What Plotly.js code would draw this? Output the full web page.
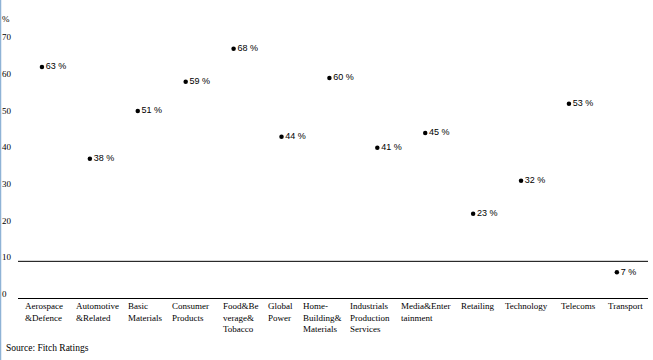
<!DOCTYPE html>
<html><head><meta charset="utf-8">
<script src="https://cdn.plot.ly/plotly-3.0.1.min.js"></script>
<style>html,body{margin:0;padding:0;background:#fff;}#chart{width:653px;height:360px;}</style>
</head><body><div id="chart"></div>
<script>
const categories = ["Aerospace &Defence","Automotive &Related","Basic Materials","Consumer Products","Food&Beverage& Tobacco","Global Power","Home-Building& Materials","Industrials Production Services","Media&Entertainment","Retailing","Technology","Telecoms","Transport"];
const categoryLabels = ["Aerospace<br>&Defence","Automotive<br>&Related","Basic<br>Materials","Consumer<br>Products","Food&Be<br>verage&<br>Tobacco","Global<br>Power","Home-<br>Building&<br>Materials","Industrials<br>Production<br>Services","Media&Enter<br>tainment","Retailing","Technology","Telecoms","Transport"];
const values = [63,38,51,59,68,44,60,41,45,23,32,53,7];
const yTicks = [0,10,20,30,40,50,60,70];
const thresholdValue = 10;
const unitLabel = "%";
const sourceText = "Source: Fitch Ratings";

// label placement offsets (style only, px)
const labelShift = [-19,-16,-12,-16,-13,-16,-28,-29,-26,-14,-18,-10,-11];

const serif = "Liberation Serif, Times New Roman, serif";
const annotations = [];
yTicks.forEach(v => annotations.push({xref:'paper', yref:'y', x:-18/630, y:v, xanchor:'left', yanchor:'bottom', text:String(v), showarrow:false, font:{family:serif, size:9, color:'#000'}, yshift:-3}));
annotations.push({xref:'paper', yref:'y', x:-18/630, y:75, xanchor:'left', yanchor:'bottom', text:unitLabel, showarrow:false, font:{family:serif, size:9, color:'#000'}, yshift:-3});
categories.forEach((c,i) => annotations.push({xref:'x', yref:'paper', x:c, y:0, xanchor:'left', yanchor:'top', xshift:labelShift[i], yshift:-1, align:'left', text:categoryLabels[i], showarrow:false, font:{family:serif, size:9, color:'#000'}}));
annotations.push({xref:'paper', yref:'paper', x:-14/630, y:-50/275, xanchor:'left', yanchor:'middle', text:sourceText, showarrow:false, font:{family:serif, size:9.5, color:'#000'}});

const trace = {
  type:'scatter', mode:'markers+text', x:categories, y:values,
  marker:{color:'#000', size:4.5},
  text: values.map(v => v + ' %'),
  textposition:'middle right',
  textfont:{family:'Liberation Sans, Arial, sans-serif', size:9, color:'#000'},
  cliponaxis:false, hoverinfo:'none'
};
const layout = {
  width:653, height:360,
  margin:{l:18, r:5, t:23, b:62},
  paper_bgcolor:'#fff', plot_bgcolor:'#fff',
  showlegend:false,
  xaxis:{type:'category', range:[-0.5,12.65], showticklabels:false, showgrid:false, zeroline:false, showline:true, linecolor:'#000', linewidth:1, ticks:''},
  yaxis:{range:[0,75], showticklabels:false, showgrid:false, zeroline:false, showline:false, ticks:''},
  shapes:[
    {type:'line', xref:'paper', yref:'y', x0:0, x1:1, y0:thresholdValue, y1:thresholdValue, line:{color:'#000', width:1}},
    {type:'line', xref:'paper', yref:'paper', x0:-17.5/630, x1:-17.5/630, y0:-62/275, y1:298/275, line:{color:'#8fb3d6', width:1.5}}
  ],
  annotations:annotations
};
Plotly.newPlot('chart',[trace],layout,{staticPlot:true});
</script></body></html>
